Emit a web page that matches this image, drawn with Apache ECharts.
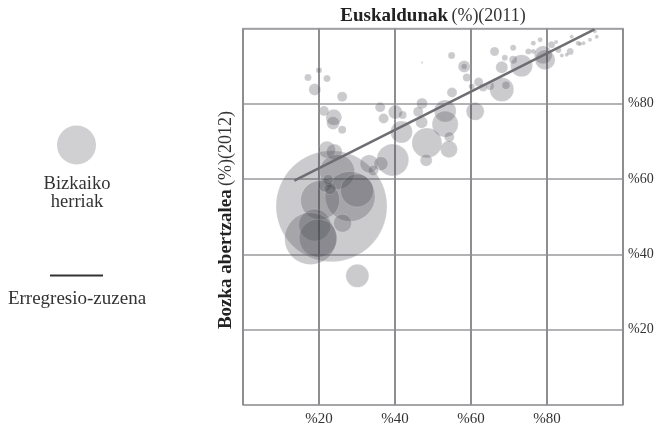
<!DOCTYPE html>
<html>
<head>
<meta charset="utf-8">
<script src="https://cdn.jsdelivr.net/npm/echarts@6/dist/echarts.min.js"></script>
<style>html,body{margin:0;padding:0;background:#fff}#c{width:658px;height:427px}</style>
</head>
<body>
<div id="c"></div>
<script>
// Euskaldunak (%) 2011
var euskaldunak = [17.1,20.0,22.1,18.9,26.1,21.3,23.9,23.7,26.1,36.1,37.0,40.1,42.0,41.7,
  47.1,46.1,47.0,53.2,53.2,54.3,54.2,48.4,48.2,61.1,55.0,39.4,33.2,36.3,34.3,
  47.1,54.9,58.2,58.9,62.0,60.2,63.2,65.0,66.2,68.1,68.1,69.2,71.1,71.1,73.3,75.1,76.4,76.4,78.2,79.0,79.5,81.2,83.0,86.1,86.5,88.2,89.6,91.3,93.1,92.6,68.9,58.2,
  23.3,22.1,24.0,24.8,28.2,30.0,20.3,21.6,22.9,22.4,26.2,18.9,19.8,17.8,30.1,
  82.4,83.9,85.2,88.7];
// Bozka abertzalea (%) 2012
var abertzale = [87.0,88.9,86.7,83.8,81.9,78.1,76.4,74.9,73.1,79.1,76.1,77.8,77.0,72.5,
  80.1,77.9,75.1,78.1,74.6,71.2,67.9,69.6,65.0,78.0,83.0,65.1,64.1,64.1,62.3,
  91.0,92.8,89.9,87.0,85.8,84.6,84.3,84.7,93.9,89.7,83.8,84.9,94.9,91.7,90.1,93.9,93.9,96.1,97.0,93.0,91.7,95.7,94.3,93.9,97.8,96.1,96.1,97.0,97.8,99.3,92.2,89.9,
  52.8,67.8,67.2,61.9,55.4,57.0,54.4,58.4,57.5,59.9,48.3,47.8,44.3,44.2,34.3,
  96.4,92.8,93.0,95.9];
// Biztanleak (milaka)
var biztanleak = [1.36,1.0,1.36,4.0,2.78,2.78,7.1,4.7,1.78,2.78,2.78,5.44,1.78,13.4,
  3.36,2.78,4.0,13.4,18.8,2.78,8.0,25.0,4.0,9.0,2.78,28.4,9.0,5.44,2.78,
  0.11,1.36,4.0,1.78,2.25,1.0,1.78,1.78,2.25,4.0,16.0,1.78,1.0,1.78,13.4,1.0,0.69,0.69,0.69,9.0,11.1,1.36,1.0,1.36,0.44,0.69,0.44,0.44,0.44,0.44,1.0,1.0,
  342,8.0,7.1,34.0,69.4,30.3,42.3,5.44,4.0,2.78,9.0,28.4,40.1,75.1,14.7,
  0.44,0.44,0.44,0.44];
// Erregresio-zuzena: y = a + b*x
var regA = 52.7, regB = 0.509;
var regX = [13.5, 92.5];
var ticks = [0, 20, 40, 60, 80, 100];

var pts = euskaldunak.map(function (x, i) { return [x, abertzale[i], biztanleak[i]]; });
var regLine = regX.map(function (x) { return [x, regA + regB * x]; });

var serif = '"Liberation Serif", "DejaVu Serif", serif';
var chart = echarts.init(document.getElementById('c'));
chart.setOption({
  animation: false,
  grid: { left: 243, top: 28.5, width: 380, height: 380, show: true, borderColor: '#b4b4b6', borderWidth: 1.5 },
  xAxis: {
    type: 'value', min: 0, max: 100, interval: 20,
    axisLine: { show: false }, axisTick: { show: false },
    splitLine: { show: true, lineStyle: { color: '#8e8e92', width: 2 } },
    axisLabel: {
      fontFamily: serif, fontSize: 15, color: '#333', margin: 7,
      formatter: function (v) { return (v === 0 || v === 100) ? '' : '%' + v; }
    }
  },
  yAxis: {
    type: 'value', min: 0, max: 100, interval: 20, position: 'right',
    axisLine: { show: false }, axisTick: { show: false },
    splitLine: { show: true, lineStyle: { color: '#9a9a9e', width: 1.6 } },
    axisLabel: {
      fontFamily: serif, fontSize: 14, color: '#333', margin: 5,
      formatter: function (v) { return (v === 0 || v === 100) ? '' : '%' + v; }
    }
  },
  series: [
    {
      type: 'scatter', data: pts,
      symbolSize: function (d) { return Math.sqrt(d[2]) * 6; },
      itemStyle: { color: 'rgba(70,70,78,0.35)', borderColor: 'rgba(255,255,255,0.35)', borderWidth: 0.6 },
      z: 2
    },
    {
      type: 'line', data: regLine, symbol: 'none',
      lineStyle: { color: '#6e6e72', width: 2.5 }, z: 3
    }
  ],
  graphic: [
    { type: 'text', x: 433, y: 16, style: {
        text: '{b|Euskaldunak} {n|(%)(2011)}', align: 'center', verticalAlign: 'middle',
        rich: { b: { fontFamily: serif, fontSize: 19, fontWeight: 'bold', fill: '#222' },
                n: { fontFamily: serif, fontSize: 18, fill: '#333' } } } },
    { type: 'text', x: 226, y: 220, rotation: Math.PI / 2, style: {
        text: '{b|Bozka abertzalea} {n|(%)(2012)}', align: 'center', verticalAlign: 'middle',
        rich: { b: { fontFamily: serif, fontSize: 19, fontWeight: 'bold', fill: '#222' },
                n: { fontFamily: serif, fontSize: 18, fill: '#333' } } } },
    { type: 'circle', shape: { cx: 76.5, cy: 145, r: 19.5 }, style: { fill: '#d0d0d2' } },
    { type: 'text', x: 77, y: 193, style: {
        text: 'Bizkaiko\nherriak', align: 'center', verticalAlign: 'middle', lineHeight: 18,
        fontFamily: serif, fontSize: 18.5, fill: '#333' } },
    { type: 'line', shape: { x1: 50, y1: 275.5, x2: 103, y2: 275.5 }, style: { stroke: '#333', lineWidth: 2 } },
    { type: 'text', x: 77, y: 299, style: {
        text: 'Erregresio-zuzena', align: 'center', verticalAlign: 'middle',
        fontFamily: serif, fontSize: 19, fill: '#333' } }
  ]
});
</script>
</body>
</html>
